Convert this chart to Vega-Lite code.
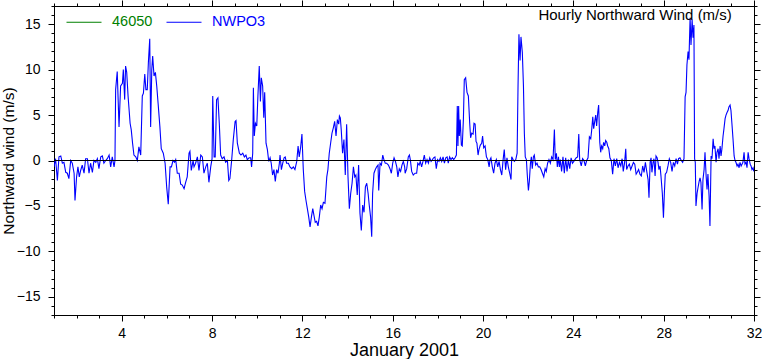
{
"$schema": "https://vega.github.io/schema/vega-lite/v6.json",
"width": 700, "height": 309,
"autosize": "none",
"padding": {"left": 54, "top": 6, "right": 8, "bottom": 44},
"config": {
  "view": {"stroke": "black", "strokeWidth": 1},
  "font": "Liberation Sans",
  "axis": {"domainColor": "black", "tickColor": "black", "labelColor": "black", "titleColor": "black", "grid": false, "labelFont": "Liberation Sans", "titleFont": "Liberation Sans", "titleFontWeight": "normal", "domainWidth": 1, "tickWidth": 1}
},
"title": {"text": "Hourly Northward Wind (m/s)", "anchor": "end", "orient": "top", "baseline": "alphabetic", "offset": 0, "dx": -30, "dy": 36, "fontSize": 15, "fontWeight": "normal", "font": "Liberation Sans", "color": "black"},
"data": {"values": [
{"d":1.00,"v":-0.7},{"d":1.07,"v":0.2},{"d":1.15,"v":-2.2},{"d":1.22,"v":0.4},{"d":1.30,"v":0.5},{"d":1.37,"v":-0.3},{"d":1.44,"v":-0.2},{"d":1.52,"v":-1.3},{"d":1.59,"v":-1.4},{"d":1.66,"v":-2.0},{"d":1.74,"v":0.0},{"d":1.81,"v":-0.3},{"d":1.89,"v":-1.4},{"d":1.93,"v":-4.4},{"d":2.00,"v":-1.8},{"d":2.06,"v":-0.7},{"d":2.12,"v":-1.8},{"d":2.18,"v":-1.1},{"d":2.25,"v":-0.5},{"d":2.33,"v":-1.4},{"d":2.40,"v":0.2},{"d":2.48,"v":0.2},{"d":2.55,"v":-1.4},{"d":2.62,"v":-0.3},{"d":2.70,"v":-1.3},{"d":2.77,"v":0.0},{"d":2.85,"v":-0.2},{"d":2.92,"v":0.2},{"d":2.99,"v":-0.9},{"d":3.07,"v":0.4},{"d":3.14,"v":0.5},{"d":3.21,"v":-0.3},{"d":3.29,"v":0.0},{"d":3.36,"v":0.2},{"d":3.44,"v":0.6},{"d":3.51,"v":-0.7},{"d":3.58,"v":0.4},{"d":3.66,"v":-0.7},{"d":3.70,"v":0.0},{"d":3.73,"v":7.8},{"d":3.80,"v":9.8},{"d":3.88,"v":3.7},{"d":3.95,"v":8.2},{"d":4.03,"v":8.5},{"d":4.07,"v":10.0},{"d":4.13,"v":6.7},{"d":4.17,"v":10.4},{"d":4.22,"v":9.7},{"d":4.28,"v":7.1},{"d":4.37,"v":4.1},{"d":4.42,"v":3.4},{"d":4.48,"v":1.9},{"d":4.54,"v":0.6},{"d":4.62,"v":0.4},{"d":4.69,"v":0.0},{"d":4.76,"v":1.5},{"d":4.84,"v":0.6},{"d":4.91,"v":7.1},{"d":4.96,"v":7.4},{"d":5.02,"v":9.5},{"d":5.07,"v":7.8},{"d":5.13,"v":7.8},{"d":5.18,"v":10.8},{"d":5.24,"v":13.4},{"d":5.28,"v":3.7},{"d":5.33,"v":10.0},{"d":5.37,"v":11.5},{"d":5.43,"v":9.3},{"d":5.49,"v":9.7},{"d":5.55,"v":8.2},{"d":5.61,"v":6.3},{"d":5.69,"v":3.7},{"d":5.75,"v":1.3},{"d":5.84,"v":0.8},{"d":5.92,"v":-0.3},{"d":5.99,"v":-2.9},{"d":6.06,"v":-4.8},{"d":6.14,"v":-0.7},{"d":6.20,"v":-0.7},{"d":6.27,"v":0.0},{"d":6.34,"v":-0.2},{"d":6.39,"v":0.1},{"d":6.46,"v":-1.4},{"d":6.54,"v":-1.4},{"d":6.61,"v":-2.6},{"d":6.68,"v":-2.7},{"d":6.76,"v":-3.1},{"d":6.83,"v":-2.4},{"d":6.90,"v":-1.8},{"d":6.98,"v":0.8},{"d":7.02,"v":1.0},{"d":7.08,"v":-1.1},{"d":7.16,"v":0.0},{"d":7.20,"v":-0.7},{"d":7.27,"v":-0.3},{"d":7.35,"v":0.4},{"d":7.42,"v":-1.1},{"d":7.50,"v":0.6},{"d":7.57,"v":0.4},{"d":7.64,"v":-1.4},{"d":7.72,"v":-0.7},{"d":7.79,"v":-0.3},{"d":7.86,"v":-2.4},{"d":7.94,"v":-0.7},{"d":8.00,"v":0.2},{"d":8.03,"v":7.1},{"d":8.09,"v":0.4},{"d":8.14,"v":0.4},{"d":8.20,"v":6.7},{"d":8.26,"v":6.9},{"d":8.32,"v":4.1},{"d":8.38,"v":0.6},{"d":8.45,"v":0.2},{"d":8.53,"v":0.4},{"d":8.60,"v":-0.2},{"d":8.68,"v":0.0},{"d":8.74,"v":-2.2},{"d":8.79,"v":-2.0},
{"d":8.87,"v":0.1},{"d":8.94,"v":2.3},{"d":9.02,"v":4.3},{"d":9.06,"v":4.4},{"d":9.12,"v":1.9},{"d":9.21,"v":0.8},{"d":9.28,"v":0.6},{"d":9.36,"v":0.8},{"d":9.43,"v":0.4},{"d":9.50,"v":0.6},{"d":9.56,"v":0.1},{"d":9.64,"v":0.3},{"d":9.71,"v":0.3},{"d":9.75,"v":-0.7},{"d":9.80,"v":0.8},{"d":9.83,"v":8.0},{"d":9.87,"v":2.7},{"d":9.92,"v":4.1},{"d":9.98,"v":3.8},{"d":10.03,"v":7.1},{"d":10.09,"v":10.4},{"d":10.14,"v":6.5},{"d":10.18,"v":9.1},{"d":10.24,"v":8.2},{"d":10.29,"v":4.7},{"d":10.33,"v":7.5},{"d":10.39,"v":1.9},{"d":10.45,"v":1.2},{"d":10.51,"v":-0.1},{"d":10.57,"v":0.3},{"d":10.62,"v":-0.3},{"d":10.68,"v":-1.6},{"d":10.74,"v":-1.0},{"d":10.80,"v":-2.3},{"d":10.86,"v":-1.0},{"d":10.92,"v":-1.4},{"d":10.98,"v":-0.3},{"d":11.01,"v":0.6},{"d":11.07,"v":-1.0},{"d":11.13,"v":-0.3},{"d":11.19,"v":0.3},{"d":11.24,"v":0.4},{"d":11.30,"v":-0.3},{"d":11.38,"v":-0.3},{"d":11.45,"v":-0.7},{"d":11.53,"v":-0.9},{"d":11.60,"v":-0.7},{"d":11.67,"v":-1.0},{"d":11.75,"v":-0.1},{"d":11.81,"v":1.6},{"d":11.86,"v":0.4},{"d":11.92,"v":1.4},{"d":11.98,"v":2.9},{"d":12.04,"v":-1.0},{"d":12.10,"v":-3.4},{"d":12.16,"v":-4.4},{"d":12.22,"v":-5.3},{"d":12.28,"v":-6.2},{"d":12.34,"v":-7.3},{"d":12.40,"v":-6.2},{"d":12.46,"v":-5.3},{"d":12.51,"v":-6.0},{"d":12.57,"v":-6.8},{"d":12.63,"v":-6.7},{"d":12.69,"v":-7.2},{"d":12.75,"v":-6.2},{"d":12.81,"v":-4.9},{"d":12.87,"v":-5.3},{"d":12.93,"v":-4.6},{"d":13.00,"v":-4.7},{"d":13.08,"v":-1.8},{"d":13.13,"v":-1.0},{"d":13.19,"v":0.8},{"d":13.25,"v":1.9},{"d":13.31,"v":3.0},{"d":13.37,"v":3.6},{"d":13.43,"v":4.3},{"d":13.49,"v":2.7},{"d":13.55,"v":4.5},{"d":13.61,"v":4.0},{"d":13.64,"v":4.9},{"d":13.68,"v":4.7},{"d":13.72,"v":3.4},{"d":13.78,"v":0.8},{"d":13.84,"v":2.3},{"d":13.90,"v":-1.6},{"d":13.96,"v":4.0},{"d":14.02,"v":-1.8},{"d":14.08,"v":-5.3},{"d":14.14,"v":-3.6},{"d":14.20,"v":-2.5},{"d":14.26,"v":-0.7},{"d":14.32,"v":-1.8},{"d":14.37,"v":-1.6},{"d":14.43,"v":-3.8},{"d":14.49,"v":-0.5},{"d":14.55,"v":-5.8},{"d":14.61,"v":-7.7},{"d":14.67,"v":-4.9},{"d":14.73,"v":-5.7},{"d":14.79,"v":-2.9},{"d":14.85,"v":-2.5},{"d":14.91,"v":-3.6},{"d":14.96,"v":-4.9},{"d":15.02,"v":-6.2},{"d":15.07,"v":-8.4},{"d":15.11,"v":-3.6},{"d":15.17,"v":-1.4},{"d":15.23,"v":-1.0},{"d":15.29,"v":-0.7},{"d":15.35,"v":-0.5},{"d":15.38,"v":-3.3},{"d":15.44,"v":-0.3},{"d":15.50,"v":-0.5},{"d":15.56,"v":0.6},{"d":15.61,"v":0.1},{"d":15.67,"v":-0.3},{"d":15.73,"v":-0.3},{"d":15.81,"v":-0.5},{"d":15.88,"v":-0.9},{"d":15.94,"v":-1.4},{"d":16.00,"v":-0.3},{"d":16.06,"v":0.3},{"d":16.12,"v":-0.1},{"d":16.18,"v":-0.7},{"d":16.23,"v":-1.8},{"d":16.29,"v":-0.9},{"d":16.35,"v":-1.2},{"d":16.41,"v":-0.5},{"d":16.47,"v":-0.1},{"d":16.53,"v":-0.7},
{"d":16.55,"v":-1.4},{"d":16.62,"v":-0.9},{"d":16.69,"v":0.4},{"d":16.74,"v":0.6},{"d":16.78,"v":0.1},{"d":16.84,"v":-1.2},{"d":16.91,"v":-1.6},{"d":16.99,"v":-1.4},{"d":17.06,"v":-1.4},{"d":17.11,"v":-0.3},{"d":17.17,"v":-0.5},{"d":17.22,"v":-0.1},{"d":17.28,"v":-0.7},{"d":17.34,"v":-0.1},{"d":17.40,"v":0.6},{"d":17.46,"v":-0.3},{"d":17.52,"v":0.1},{"d":17.58,"v":-0.3},{"d":17.64,"v":0.3},{"d":17.70,"v":-0.1},{"d":17.76,"v":0.1},{"d":17.81,"v":0.3},{"d":17.87,"v":0.4},{"d":17.93,"v":-0.9},{"d":17.99,"v":0.1},{"d":18.05,"v":-0.1},{"d":18.11,"v":0.3},{"d":18.17,"v":-0.1},{"d":18.23,"v":0.4},{"d":18.29,"v":-0.3},{"d":18.35,"v":0.3},{"d":18.41,"v":0.4},{"d":18.46,"v":-0.3},{"d":18.52,"v":0.4},{"d":18.58,"v":0.1},{"d":18.64,"v":0.3},{"d":18.70,"v":0.1},{"d":18.76,"v":0.3},{"d":18.82,"v":0.6},{"d":18.86,"v":6.0},{"d":18.89,"v":1.6},{"d":18.92,"v":6.0},{"d":18.95,"v":2.7},{"d":18.99,"v":4.5},{"d":19.04,"v":1.7},{"d":19.08,"v":1.6},{"d":19.13,"v":4.5},{"d":19.17,"v":8.9},{"d":19.23,"v":9.1},{"d":19.29,"v":7.5},{"d":19.35,"v":7.1},{"d":19.41,"v":4.1},{"d":19.45,"v":2.5},{"d":19.50,"v":3.0},{"d":19.56,"v":2.9},{"d":19.60,"v":4.1},{"d":19.65,"v":4.0},{"d":19.69,"v":2.1},{"d":19.73,"v":1.9},{"d":19.78,"v":0.6},{"d":19.82,"v":1.2},{"d":19.88,"v":1.7},{"d":19.94,"v":1.9},{"d":19.98,"v":2.7},{"d":20.03,"v":1.4},{"d":20.09,"v":1.6},{"d":20.15,"v":0.4},{"d":20.21,"v":0.1},{"d":20.27,"v":-0.7},{"d":20.31,"v":0.1},{"d":20.35,"v":0.3},{"d":20.41,"v":-0.7},{"d":20.47,"v":-1.4},{"d":20.53,"v":-0.3},{"d":20.59,"v":0.1},{"d":20.65,"v":-0.7},{"d":20.71,"v":-0.1},{"d":20.77,"v":-1.0},{"d":20.83,"v":-1.6},{"d":20.89,"v":0.1},{"d":20.94,"v":1.2},{"d":21.00,"v":-1.0},{"d":21.06,"v":0.3},{"d":21.12,"v":-0.7},{"d":21.18,"v":-1.4},{"d":21.24,"v":-2.1},{"d":21.27,"v":0.4},{"d":21.33,"v":0.1},{"d":21.39,"v":-0.1},{"d":21.45,"v":0.1},{"d":21.51,"v":0.8},{"d":21.55,"v":8.2},{"d":21.59,"v":13.9},{"d":21.64,"v":11.0},{"d":21.68,"v":13.6},{"d":21.74,"v":11.9},{"d":21.79,"v":8.2},{"d":21.83,"v":3.0},{"d":21.87,"v":0.4},{"d":21.92,"v":0.1},{"d":21.96,"v":-1.6},{"d":22.01,"v":-3.3},{"d":22.05,"v":-2.3},{"d":22.10,"v":-0.3},{"d":22.14,"v":0.4},{"d":22.18,"v":-0.9},{"d":22.23,"v":0.4},{"d":22.27,"v":0.6},{"d":22.33,"v":-0.5},{"d":22.39,"v":-0.3},{"d":22.45,"v":-0.7},{"d":22.51,"v":-0.7},{"d":22.57,"v":-1.0},{"d":22.63,"v":-1.4},{"d":22.69,"v":-1.8},{"d":22.75,"v":-0.9},{"d":22.80,"v":-1.2},{"d":22.86,"v":-0.3},{"d":22.92,"v":0.1},{"d":22.98,"v":-0.3},{"d":23.04,"v":0.4},{"d":23.10,"v":0.1},{"d":23.16,"v":3.4},{"d":23.20,"v":0.1},{"d":23.25,"v":0.8},{"d":23.29,"v":-0.7},{"d":23.34,"v":0.4},{"d":23.38,"v":-0.7},{"d":23.42,"v":0.1},{"d":23.48,"v":-1.2},{"d":23.54,"v":0.4},{"d":23.60,"v":-1.4},{"d":23.66,"v":0.3},{"d":23.72,"v":-1.2},{"d":23.78,"v":0.1},{"d":23.84,"v":-0.9},{"d":23.90,"v":0.3},{"d":23.96,"v":-0.3},{"d":24.02,"v":-0.1},{"d":24.07,"v":0.1},{"d":24.13,"v":0.3},{"d":24.19,"v":0.4},{"d":24.24,"v":2.9},{"d":24.28,"v":0.1},
{"d":24.35,"v":-0.6},{"d":24.41,"v":0.2},{"d":24.47,"v":0.0},{"d":24.53,"v":-0.6},{"d":24.59,"v":0.0},{"d":24.65,"v":0.3},{"d":24.71,"v":2.6},{"d":24.77,"v":2.4},{"d":24.81,"v":3.3},{"d":24.86,"v":4.8},{"d":24.90,"v":3.5},{"d":24.94,"v":4.2},{"d":24.99,"v":5.0},{"d":25.03,"v":3.8},{"d":25.08,"v":5.3},{"d":25.12,"v":6.1},{"d":25.17,"v":2.0},{"d":25.21,"v":0.9},{"d":25.25,"v":1.6},{"d":25.30,"v":1.3},{"d":25.34,"v":2.0},{"d":25.39,"v":1.6},{"d":25.43,"v":2.2},{"d":25.48,"v":2.0},{"d":25.52,"v":1.6},{"d":25.57,"v":1.3},{"d":25.62,"v":0.3},{"d":25.68,"v":0.0},{"d":25.74,"v":-1.5},{"d":25.80,"v":0.2},{"d":25.86,"v":-0.6},{"d":25.92,"v":0.2},{"d":25.98,"v":-0.8},{"d":26.04,"v":-0.2},{"d":26.10,"v":-0.6},{"d":26.16,"v":0.2},{"d":26.21,"v":-1.2},{"d":26.27,"v":-0.2},{"d":26.32,"v":1.3},{"d":26.36,"v":-1.0},{"d":26.42,"v":-0.6},{"d":26.48,"v":-0.4},{"d":26.54,"v":-1.0},{"d":26.60,"v":-0.6},{"d":26.66,"v":-0.2},{"d":26.72,"v":-0.4},{"d":26.78,"v":-1.5},{"d":26.83,"v":-1.3},{"d":26.89,"v":-1.0},{"d":26.95,"v":-1.5},{"d":27.01,"v":-1.7},{"d":27.07,"v":-0.6},{"d":27.13,"v":-1.3},{"d":27.19,"v":-0.2},{"d":27.25,"v":-1.2},{"d":27.31,"v":-2.1},{"d":27.35,"v":-4.1},{"d":27.40,"v":-0.2},{"d":27.44,"v":0.3},{"d":27.48,"v":-1.3},{"d":27.53,"v":-0.2},{"d":27.57,"v":0.2},{"d":27.62,"v":-1.7},{"d":27.66,"v":0.5},{"d":27.71,"v":0.3},{"d":27.75,"v":-0.2},{"d":27.79,"v":-1.0},{"d":27.84,"v":-0.6},{"d":27.88,"v":-1.7},{"d":27.94,"v":-3.6},{"d":27.99,"v":-6.3},{"d":28.03,"v":-3.6},{"d":28.07,"v":-1.5},{"d":28.13,"v":-1.3},{"d":28.19,"v":-0.6},{"d":28.25,"v":0.2},{"d":28.31,"v":-0.2},{"d":28.37,"v":-1.2},{"d":28.43,"v":-0.2},{"d":28.49,"v":-0.6},{"d":28.55,"v":0.2},{"d":28.61,"v":-0.4},{"d":28.66,"v":0.2},{"d":28.72,"v":0.3},{"d":28.78,"v":0.0},{"d":28.84,"v":-0.2},{"d":28.90,"v":0.2},{"d":28.95,"v":7.0},{"d":28.99,"v":7.5},{"d":29.03,"v":10.5},{"d":29.08,"v":12.0},{"d":29.12,"v":11.1},{"d":29.17,"v":15.7},{"d":29.21,"v":12.7},{"d":29.26,"v":15.5},{"d":29.30,"v":13.5},{"d":29.34,"v":14.9},{"d":29.37,"v":0.2},{"d":29.40,"v":-0.2},{"d":29.43,"v":-5.0},{"d":29.48,"v":-3.6},{"d":29.52,"v":-3.0},{"d":29.57,"v":-2.3},{"d":29.61,"v":-1.9},{"d":29.65,"v":-2.4},{"d":29.70,"v":-5.4},{"d":29.74,"v":-2.1},{"d":29.79,"v":-1.0},{"d":29.83,"v":0.9},{"d":29.88,"v":-1.7},{"d":29.92,"v":-3.2},{"d":29.96,"v":-1.5},{"d":30.01,"v":-3.9},{"d":30.05,"v":-7.2},{"d":30.10,"v":0.5},{"d":30.14,"v":0.2},{"d":30.19,"v":2.4},{"d":30.23,"v":1.3},{"d":30.27,"v":1.6},{"d":30.32,"v":-0.2},{"d":30.36,"v":0.9},{"d":30.41,"v":1.3},{"d":30.45,"v":0.2},{"d":30.50,"v":1.6},{"d":30.54,"v":0.5},{"d":30.58,"v":1.3},{"d":30.63,"v":2.7},{"d":30.67,"v":3.5},{"d":30.72,"v":4.6},{"d":30.76,"v":5.0},{"d":30.81,"v":5.3},{"d":30.85,"v":5.5},{"d":30.89,"v":5.9},{"d":30.94,"v":6.1},{"d":30.98,"v":5.5},{"d":31.03,"v":3.8},{"d":31.07,"v":2.4},{"d":31.12,"v":0.5},{"d":31.16,"v":0.0},{"d":31.20,"v":-0.2},{"d":31.25,"v":-0.6},{"d":31.29,"v":-0.4},{"d":31.34,"v":-0.8},{"d":31.38,"v":-0.2},{"d":31.43,"v":-0.6},{"d":31.47,"v":-0.4},{"d":31.51,"v":-0.2},{"d":31.56,"v":0.9},{"d":31.60,"v":-0.4},{"d":31.65,"v":-0.2},{"d":31.69,"v":-0.8},{"d":31.74,"v":0.9},{"d":31.78,"v":0.2},{"d":31.83,"v":-0.4},{"d":31.87,"v":-0.6},{"d":31.91,"v":-1.0},{"d":31.96,"v":-0.8},{"d":31.99,"v":-1.2}
]},
"layer": [
  {
    "mark": {"type": "line", "strokeWidth": 1.1, "clip": true},
    "encoding": {
      "x": {"field": "d", "type": "quantitative", "scale": {"domain": [1, 32], "nice": false, "zero": false},
        "axis": {"orient": "bottom", "values": [1,2,3,4,5,6,7,8,9,10,11,12,13,14,15,16,17,18,19,20,21,22,23,24,25,26,27,28,29,30,31,32], "format": "d",
          "labelExpr": "datum.value % 4 === 0 ? datum.label : ''",
          "tickSize": {"condition": {"test": "datum.value % 4 === 0", "value": 6}, "value": 3},
          "labelFontSize": 14, "labelPadding": 5, "labelFlush": false, "labelOverlap": false,
          "title": "January 2001", "titleFontSize": 18, "titlePadding": 1}},
      "y": {"field": "v", "type": "quantitative", "scale": {"domain": [-17, 17], "nice": false, "zero": false},
        "axis": {"orient": "left", "values": [-17,-16,-15,-14,-13,-12,-11,-10,-9,-8,-7,-6,-5,-4,-3,-2,-1,0,1,2,3,4,5,6,7,8,9,10,11,12,13,14,15,16,17], "format": "d",
          "labelExpr": "datum.value % 5 === 0 ? datum.label : ''",
          "tickSize": {"condition": {"test": "datum.value % 5 === 0", "value": 6}, "value": 3},
          "labelFontSize": 14, "labelPadding": 8, "labelFlush": false, "labelOverlap": false,
          "title": "Northward wind (m/s)", "titleFontSize": 15.5, "titlePadding": 0}},
      "color": {"datum": "NWPO3", "type": "nominal", "scale": {"domain": ["46050", "NWPO3"], "range": ["#008000", "#0000ff"]},
        "legend": {"orient": "none", "legendX": 12, "legendY": -2, "direction": "horizontal", "title": null,
          "symbolType": "stroke", "symbolSize": 1225, "symbolStrokeWidth": 1, "labelFontSize": 14.5, "labelFont": "Liberation Sans",
          "labelOffset": 10, "columnPadding": 11, "padding": 0,
          "encode": {"labels": {"update": {"fill": {"signal": "scale('color', datum.value)"}}}}}}
    }
  },
  {
    "mark": {"type": "rule", "color": "black", "strokeWidth": 1.2},
    "encoding": {"y": {"datum": 0, "type": "quantitative", "axis": null}}
  },
  {
    "mark": {"type": "point", "opacity": 0},
    "encoding": {
      "x": {"field": "d", "type": "quantitative",
        "axis": {"orient": "top", "values": [1,2,3,4,5,6,7,8,9,10,11,12,13,14,15,16,17,18,19,20,21,22,23,24,25,26,27,28,29,30,31,32], "labels": false, "title": null,
          "tickSize": {"condition": {"test": "datum.value % 4 === 0", "value": 6}, "value": 3}}},
      "y": {"field": "v", "type": "quantitative",
        "axis": {"orient": "right", "values": [-17,-16,-15,-14,-13,-12,-11,-10,-9,-8,-7,-6,-5,-4,-3,-2,-1,0,1,2,3,4,5,6,7,8,9,10,11,12,13,14,15,16,17], "labels": false, "title": null,
          "tickSize": {"condition": {"test": "datum.value % 5 === 0", "value": 6}, "value": 3}}}
    }
  }
]
}
